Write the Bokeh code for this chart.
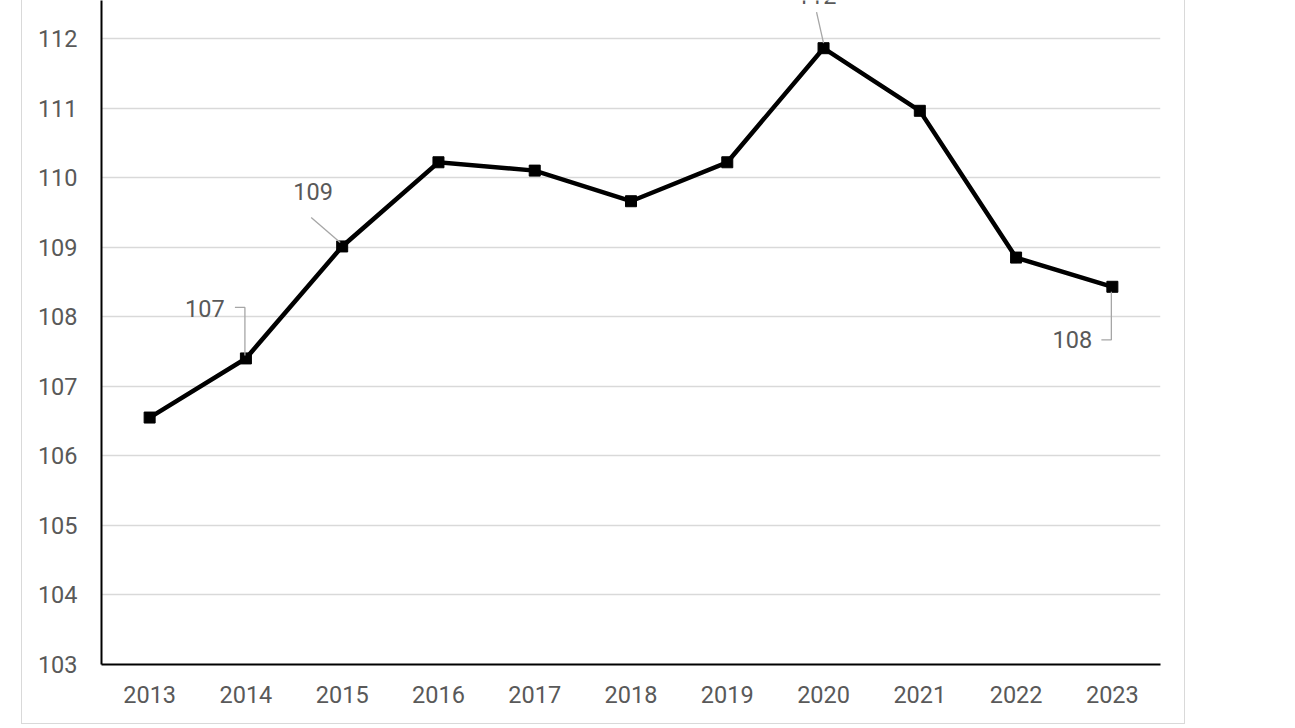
from bokeh.plotting import figure
from bokeh.models import FixedTicker, ColumnDataSource, Range1d, Spacer
from bokeh.layouts import row
from bokeh.core.properties import value
from bokeh.embed import file_html
from bokeh.resources import INLINE

years = ["2013", "2014", "2015", "2016", "2017", "2018", "2019", "2020", "2021", "2022", "2023"]
values = [106.55, 107.40, 109.01, 110.22, 110.10, 109.66, 110.22, 111.86, 110.96, 108.85, 108.43]
y_ticks = [103, 104, 105, 106, 107, 108, 109, 110, 111, 112]

# data labels shown on selected points
label_years = ["2014", "2015", "2020", "2023"]

OFFX = 21          # page offset of the chart box
BORDER = 1.5
W, H = 1164, 724
MB_LEFT, MB_RIGHT, MB_TOP, MB_BOTTOM = 79, 26, 0, 60
FRAME_W = 1160 - 101
FRAME_H = 664
Y0 = 103
PX_PER_UNIT = 69.56
Y1 = Y0 + FRAME_H / PX_PER_UNIT
n = len(years)
PX_PER_CAT = FRAME_W / n

GRID = "#d9d9d9"
TXT = "#595959"
FONT = "Roboto"

p = figure(width=W, height=H, output_backend="svg", toolbar_location=None,
           x_range=Range1d(-0.5, n - 0.5), y_range=Range1d(Y0, Y1),
           min_border_left=MB_LEFT, min_border_right=MB_RIGHT,
           min_border_top=MB_TOP, min_border_bottom=MB_BOTTOM)
p.styles = {"border-left": f"{BORDER}px solid {GRID}",
            "border-right": f"{BORDER}px solid {GRID}",
            "border-bottom": f"{BORDER}px solid {GRID}"}
p.outline_line_color = None
p.background_fill_color = "white"
p.border_fill_color = "white"

p.xgrid.visible = False
p.ygrid.ticker = FixedTicker(ticks=y_ticks)
p.ygrid.grid_line_color = GRID
p.ygrid.grid_line_width = 1.5

p.xaxis.ticker = FixedTicker(ticks=list(range(n)))
p.xaxis.major_label_overrides = {i: y for i, y in enumerate(years)}
p.yaxis.ticker = FixedTicker(ticks=y_ticks)
for ax in (p.xaxis[0], p.yaxis[0]):
    ax.axis_line_color = "black"
    ax.axis_line_width = 2
    ax.major_tick_line_color = None
    ax.minor_tick_line_color = None
    ax.major_tick_out = 0
    ax.major_tick_in = 0
    ax.major_label_text_font = FONT
    ax.major_label_text_font_size = "23.5px"
    ax.major_label_text_color = TXT
p.yaxis.major_label_standoff = 24
p.xaxis.major_label_standoff = 21

xs = list(range(n))
src = ColumnDataSource(dict(x=xs, y=values))
p.line("x", "y", source=src, line_color="black", line_width=4.5, line_join="miter")
p.scatter("x", "y", source=src, marker="square", size=11, fill_color="black", line_color="black")

# data labels with leader lines (pixel offsets from the point)
lab_text_off = {"2014": (-41, 50), "2015": (-29, 55), "2020": (-7, 53), "2023": (-40, -53)}
lab_leader = {
    "2014": [(-1, 3), (-1, 51), (-11, 51)],
    "2015": [(-2, 4), (-31, 29)],
    "2020": [(0, 5), (-7, 36)],
    "2023": [(-1, -5), (-1, -53), (-11, -53)],
}
lx, ly, lt, ox, oy = [], [], [], [], []
seg_xs, seg_ys = [], []
for yr in label_years:
    i = years.index(yr)
    v = values[i]
    lx.append(i)
    ly.append(v)
    lt.append(str(round(v)))
    dx, dy = lab_text_off[yr]
    ox.append(dx)
    oy.append(-dy)
    seg_xs.append([i + a / PX_PER_CAT for a, b in lab_leader[yr]])
    seg_ys.append([v + b / PX_PER_UNIT for a, b in lab_leader[yr]])

p.multi_line(seg_xs, seg_ys, line_color="#a6a6a6", line_width=1.3)
lsrc = ColumnDataSource(dict(x=lx, y=ly, t=lt, ox=ox, oy=oy))
p.text("x", "y", text="t", x_offset="ox", y_offset="oy", source=lsrc,
       text_font=value(FONT), text_font_size="23.5px", text_color=TXT,
       text_align="center", text_baseline="middle")

layout = row(Spacer(width=OFFX, height=H), p)
open("out.html", "w").write(file_html(layout, INLINE))
